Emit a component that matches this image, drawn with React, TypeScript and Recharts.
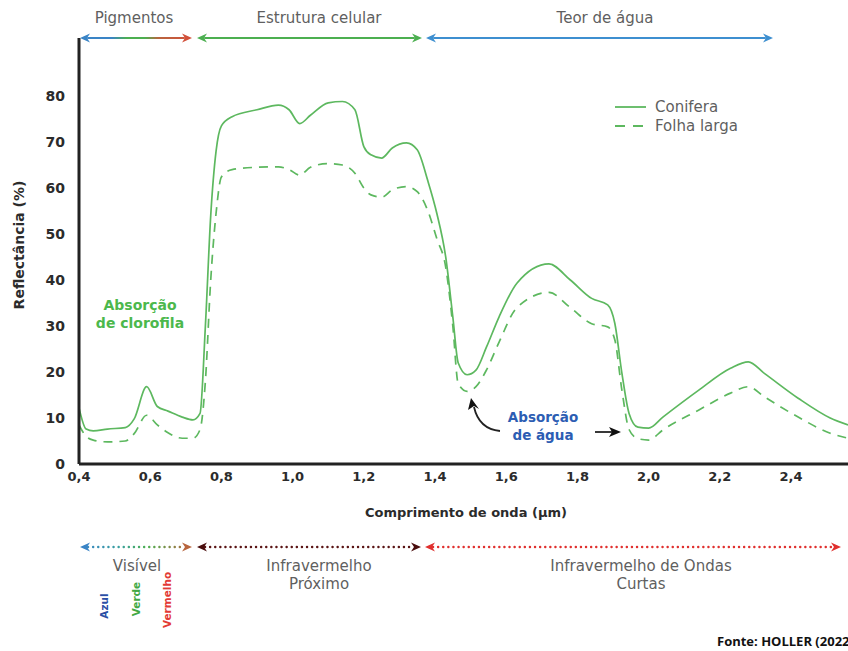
import { Line, LineChart, XAxis, YAxis } from 'recharts';

// comprimento de onda (µm) e reflectância (%)
const wavelengths = [
  0.4, 0.42, 0.44, 0.48, 0.53, 0.555, 0.59, 0.62, 0.65, 0.69, 0.72, 0.74, 0.755, 0.77, 0.785,
  0.8, 0.83, 0.9, 0.96, 0.99, 1.02, 1.05, 1.1, 1.14, 1.175, 1.2, 1.22, 1.25, 1.28, 1.32, 1.35,
  1.38, 1.405, 1.43, 1.45, 1.465, 1.49, 1.515, 1.545, 1.58, 1.63, 1.72, 1.78, 1.84, 1.885, 1.905,
  1.925, 1.945, 1.97, 2.0, 2.04, 2.14, 2.23, 2.28, 2.325, 2.42, 2.51, 2.56,
];
const conifera = [
  12.2, 7.6, 7.2, 7.6, 7.9, 9.8, 16.8, 12.5, 11.5, 10.2, 9.6, 11, 30, 54, 68,
  73.5, 75.5, 77, 78, 77, 74, 75.8, 78.5, 78.8, 77, 69, 67.2, 66.5, 68.7, 69.8, 68.3,
  61.5, 54.5, 45, 32, 22, 19.4, 20.4, 25.5, 32, 39.3, 43.5, 40, 36, 34.6, 30.6,
  19.7, 11, 8, 7.8, 10.2, 16, 20.8, 22.2, 19.7, 14.3, 10, 8.5,
];
const folhaLarga = [
  8.5, 6, 5.2, 4.8, 5, 6.6, 10.6, 8.5, 6.8, 5.6, 5.6, 7.5, 18, 40, 54.5,
  62.4, 64, 64.5, 64.6, 64, 62.8, 64.5, 65.3, 65, 63.2, 60, 58.5, 58, 59.6, 60.3, 59.2,
  55, 49, 42.8, 30, 17.5, 15.8, 16.8, 20.5, 26.5, 34, 37.3, 34, 30.5, 29.8, 27,
  16, 7.5, 5.5, 5.2, 7.4, 11.7, 15.4, 16.8, 14.6, 10.2, 6.7, 5.6,
];
const xTicks = [0.4, 0.6, 0.8, 1.0, 1.2, 1.4, 1.6, 1.8, 2.0, 2.2, 2.4];
const yTicks = [0, 10, 20, 30, 40, 50, 60, 70, 80];

const data = wavelengths.map((w, i) => ({
  w,
  conifera: conifera[i],
  folhaLarga: folhaLarga[i],
}));

const FONT = '"DejaVu Sans", sans-serif';
const GREEN = '#5db85f';
const GRAY = '#5f5f5f';

function ArrowHead({ x, y, dir, color }: { x: number; y: number; dir: 1 | -1; color: string }) {
  // dir = -1 aponta para a esquerda, 1 para a direita
  const b = x - dir * 10;
  const n = x - dir * 7;
  return <path d={`M${x},${y} L${b},${y - 4.5} L${n},${y} L${b},${y + 4.5} Z`} fill={color} />;
}

function SpanArrow({
  x1, x2, y, stroke, left, right, dotted,
}: {
  x1: number; x2: number; y: number; stroke: string; left: string; right: string; dotted?: boolean;
}) {
  return (
    <g>
      <line
        x1={x1 + 8}
        x2={x2 - 8}
        y1={y}
        y2={y}
        stroke={stroke}
        strokeWidth={dotted ? 2.4 : 2.2}
        strokeLinecap="round"
        strokeDasharray={dotted ? '0.1 5' : undefined}
      />
      <ArrowHead x={x1} y={y} dir={-1} color={left} />
      <ArrowHead x={x2} y={y} dir={1} color={right} />
    </g>
  );
}

function Decorations() {
  return (
    <svg
      width={848}
      height={651}
      style={{ position: 'absolute', left: 0, top: 0, pointerEvents: 'none', fontFamily: FONT }}
    >
      <defs>
        <linearGradient id="pig" gradientUnits="userSpaceOnUse" x1={80} y1={0} x2={192} y2={0}>
          <stop offset="0" stopColor="#3a84c6" />
          <stop offset="0.28" stopColor="#3a84c6" />
          <stop offset="0.42" stopColor="#4caf50" />
          <stop offset="0.58" stopColor="#4caf50" />
          <stop offset="0.7" stopColor="#b8653e" />
          <stop offset="1" stopColor="#d2503a" />
        </linearGradient>
        <linearGradient id="vis" gradientUnits="userSpaceOnUse" x1={80} y1={0} x2={192} y2={0}>
          <stop offset="0" stopColor="#3a84c6" />
          <stop offset="0.35" stopColor="#3aa0a0" />
          <stop offset="0.6" stopColor="#4caf50" />
          <stop offset="1" stopColor="#b8653e" />
        </linearGradient>
      </defs>

      {/* faixas superiores */}
      <text x={134} y={23} textAnchor="middle" fontSize={15} fill={GRAY}>Pigmentos</text>
      <text x={319} y={23} textAnchor="middle" fontSize={15} fill={GRAY}>Estrutura celular</text>
      <text x={605} y={23} textAnchor="middle" fontSize={15} fill={GRAY}>Teor de água</text>
      <SpanArrow x1={80} x2={192} y={38} stroke="url(#pig)" left="#3a84c6" right="#d2503a" />
      <SpanArrow x1={197} x2={422} y={38} stroke="#4caf50" left="#4caf50" right="#4caf50" />
      <SpanArrow x1={426} x2={773} y={38} stroke="#3d8fd0" left="#3d8fd0" right="#3d8fd0" />

      {/* títulos dos eixos */}
      <text
        transform="translate(19,245) rotate(-90)"
        textAnchor="middle"
        dominantBaseline="central"
        fontSize={14}
        fontWeight="bold"
        fill="#2b2b2b"
      >
        Reflectância (%)
      </text>
      <text x={466} y={517} textAnchor="middle" fontSize={13} fontWeight="bold" fill="#2b2b2b">
        Comprimento de onda (µm)
      </text>

      {/* legenda */}
      <line x1={615} x2={646} y1={107} y2={107} stroke={GREEN} strokeWidth={1.8} />
      <text x={655} y={112} fontSize={15} fill={GRAY}>Conifera</text>
      <line x1={615} x2={646} y1={126} y2={126} stroke={GREEN} strokeWidth={1.8} strokeDasharray="10 8" />
      <text x={655} y={131} fontSize={15} fill={GRAY}>Folha larga</text>

      {/* anotações */}
      <text textAnchor="middle" fontSize={14} fontWeight="bold" fill="#4cb84c">
        <tspan x={140} y={310}>Absorção</tspan>
        <tspan x={140} y={328}>de clorofila</tspan>
      </text>
      <text textAnchor="middle" fontSize={13.5} fontWeight="bold" fill="#2c5db3">
        <tspan x={543} y={422}>Absorção</tspan>
        <tspan x={543} y={440}>de água</tspan>
      </text>
      <path d="M500,431 Q479,429 474,407" fill="none" stroke="#222" strokeWidth={1.8} />
      <path d="M471,398 L479,409 L474,406 L468,410 Z" fill="#111" />
      <line x1={595} x2={612} y1={432} y2={432} stroke="#222" strokeWidth={1.8} />
      <path d="M621,432 L609,427 L612,432 L609,437 Z" fill="#111" />

      {/* faixas inferiores */}
      <SpanArrow x1={80} x2={192} y={547} stroke="url(#vis)" left="#3a84c6" right="#b8653e" dotted />
      <SpanArrow x1={197} x2={421} y={547} stroke="#5a1414" left="#4a0d0d" right="#4a0d0d" dotted />
      <SpanArrow x1={425} x2={841} y={547} stroke="#e0302e" left="#e0302e" right="#e0302e" dotted />
      <text x={137} y={571} textAnchor="middle" fontSize={15} fill={GRAY}>Visível</text>
      <text textAnchor="middle" fontSize={15} fill={GRAY}>
        <tspan x={319} y={571}>Infravermelho</tspan>
        <tspan x={319} y={589}>Próximo</tspan>
      </text>
      <text textAnchor="middle" fontSize={15} fill={GRAY}>
        <tspan x={641} y={571}>Infravermelho de Ondas</tspan>
        <tspan x={641} y={589}>Curtas</tspan>
      </text>
      <text transform="translate(104,606) rotate(-90)" textAnchor="middle" dominantBaseline="central" fontSize={10.5} fontWeight="bold" fill="#2b4fa5">Azul</text>
      <text transform="translate(136,599) rotate(-90)" textAnchor="middle" dominantBaseline="central" fontSize={10.5} fontWeight="bold" fill="#43a843">Verde</text>
      <text transform="translate(167,600) rotate(-90)" textAnchor="middle" dominantBaseline="central" fontSize={10.5} fontWeight="bold" fill="#e33a35">Vermelho</text>

      <text x={717} y={646} fontSize={13} fontWeight="bold" fill="#111" fontFamily='"Open Sans", sans-serif'>
        Fonte: HOLLER (2022
      </text>
    </svg>
  );
}

export default function App() {
  return (
    <div style={{ position: 'absolute', left: 0, top: 0, width: 848, height: 651, background: '#fff' }}>
      <LineChart
        width={848}
        height={651}
        data={data}
        margin={{ top: 38, right: 0, left: 0, bottom: 157 }}
        style={{ fontFamily: FONT }}
      >
        <XAxis
          dataKey="w"
          type="number"
          domain={[0.4, 2.56]}
          ticks={xTicks}
          allowDataOverflow
          height={30}
          tickLine={false}
          tickMargin={2}
          tickFormatter={(v: number) => v.toFixed(1).replace('.', ',')}
          axisLine={{ stroke: '#222', strokeWidth: 3 }}
          tick={{ fill: '#2b2b2b', fontSize: 13, fontWeight: 'bold' }}
        />
        <YAxis
          type="number"
          domain={[0, 92.6]}
          ticks={yTicks}
          allowDataOverflow
          width={79}
          tickLine={false}
          tickMargin={8}
          axisLine={{ stroke: '#222', strokeWidth: 3 }}
          tick={{ fill: '#2b2b2b', fontSize: 14, fontWeight: 'bold' }}
        />
        <Line
          type="monotone"
          dataKey="conifera"
          name="Conifera"
          stroke={GREEN}
          strokeWidth={1.7}
          dot={false}
          isAnimationActive={false}
        />
        <Line
          type="monotone"
          dataKey="folhaLarga"
          name="Folha larga"
          stroke={GREEN}
          strokeWidth={1.7}
          strokeDasharray="9 7"
          dot={false}
          isAnimationActive={false}
        />
      </LineChart>
      <Decorations />
    </div>
  );
}
